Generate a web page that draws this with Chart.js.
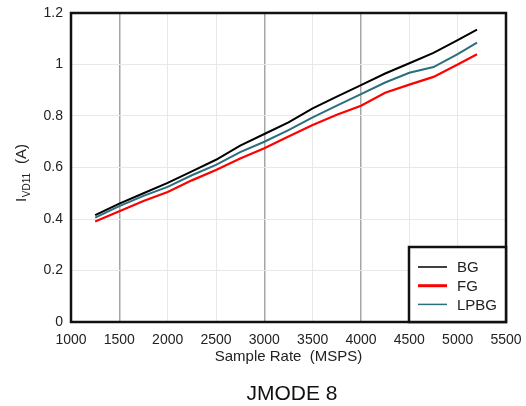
<!DOCTYPE html>
<html>
<head>
<meta charset="utf-8">
<script src="https://cdn.jsdelivr.net/npm/chart.js@4.4.0/dist/chart.umd.min.js"></script>
<style>
  html, body { margin: 0; padding: 0; background: #fff; }
  #wrap { width: 526px; height: 406px; }
</style>
</head>
<body>
<div id="wrap"><canvas id="c" width="526" height="406"></canvas></div>
<script>
// Data
const sampleRates = [1250, 1500, 1750, 2000, 2250, 2500, 2750, 3000, 3250, 3500, 3750, 4000, 4250, 4500, 4750, 5000, 5200];
const bgValues   = [0.415, 0.46, 0.50, 0.54, 0.585, 0.63, 0.685, 0.73, 0.775, 0.83, 0.875, 0.92, 0.965, 1.005, 1.045, 1.095, 1.135];
const fgValues   = [0.39, 0.43, 0.47, 0.505, 0.55, 0.59, 0.635, 0.675, 0.72, 0.765, 0.805, 0.84, 0.89, 0.922, 0.952, 1.0, 1.04];
const lpbgValues = [0.405, 0.45, 0.49, 0.525, 0.57, 0.61, 0.66, 0.70, 0.745, 0.795, 0.84, 0.885, 0.93, 0.968, 0.99, 1.04, 1.085];
const seriesNames = ['BG', 'FG', 'LPBG'];
const xTickValues = [1000, 1500, 2000, 2500, 3000, 3500, 4000, 4500, 5000, 5500];
const yTickValues = [0, 0.2, 0.4, 0.6, 0.8, 1, 1.2];
const darkGridX = [1500, 3000, 4000];
const chartTitle = 'JMODE 8';
const xAxisTitle = 'Sample Rate  (MSPS)';

const FONT = '"Liberation Sans", Arial, sans-serif';
const TEXT = '#222';

function pts(vals) { return sampleRates.map((x, i) => ({ x: x, y: vals[i] })); }

const frameAndLegend = {
  id: 'frameAndLegend',
  afterDatasetsDraw(chart) {
    const { ctx, chartArea: a } = chart;
    ctx.save();
    ctx.strokeStyle = '#111';
    ctx.lineWidth = 2.5;
    ctx.strokeRect(a.left, a.top, a.right - a.left, a.bottom - a.top);
    // legend box
    const bx = a.right - 97, by = a.bottom - 75;
    ctx.fillStyle = '#fff';
    ctx.fillRect(bx, by, a.right - bx, a.bottom - by);
    ctx.lineWidth = 2.5;
    ctx.strokeRect(bx, by, a.right - bx, a.bottom - by);
    ctx.font = '15px ' + FONT;
    ctx.textBaseline = 'middle';
    ctx.textAlign = 'left';
    chart.data.datasets.forEach((ds, i) => {
      const yy = by + 20 + i * 18.7;
      ctx.strokeStyle = ds.borderColor;
      ctx.lineWidth = ds.legendWidth;
      ctx.beginPath();
      ctx.moveTo(bx + 9, yy);
      ctx.lineTo(bx + 38, yy);
      ctx.stroke();
      ctx.fillStyle = TEXT;
      ctx.fillText(ds.label, bx + 48, yy + 1);
    });
    ctx.restore();
  },
  afterDraw(chart) {
    const { ctx, chartArea: a } = chart;
    ctx.save();
    // y axis title with subscript
    ctx.translate(22, (a.top + a.bottom) / 2);
    ctx.rotate(-Math.PI / 2);
    ctx.fillStyle = TEXT;
    ctx.textBaseline = 'middle';
    ctx.textAlign = 'left';
    const big = '15px ' + FONT, small = '10px ' + FONT;
    ctx.font = big; const w1 = ctx.measureText('I').width;
    ctx.font = small; const w2 = ctx.measureText('VD11').width;
    ctx.font = big; const w3 = ctx.measureText('  (A)').width;
    let x0 = -(w1 + w2 + w3) / 2 - 6;
    ctx.font = big; ctx.fillText('I', x0, 0);
    ctx.font = small; ctx.fillText('VD11', x0 + w1 + 0.5, 5);
    ctx.font = big; ctx.fillText('  (A)', x0 + w1 + w2 + 1, 0);
    ctx.restore();
    // bottom title
    ctx.save();
    ctx.fillStyle = '#111';
    ctx.font = '21px ' + FONT;
    ctx.textAlign = 'center';
    ctx.textBaseline = 'middle';
    ctx.fillText(chartTitle, 292, 394);
    ctx.restore();
  }
};

new Chart(document.getElementById('c'), {
  type: 'line',
  data: {
    datasets: [
      { label: seriesNames[0], data: pts(bgValues), borderColor: '#000000', borderWidth: 2, legendWidth: 1.5 },
      { label: seriesNames[1], data: pts(fgValues), borderColor: '#ff0000', borderWidth: 2.2, legendWidth: 3 },
      { label: seriesNames[2], data: pts(lpbgValues), borderColor: '#2b6e7e', borderWidth: 2, legendWidth: 1.5 }
    ]
  },
  options: {
    responsive: false,
    animation: false,
    devicePixelRatio: 1,
    elements: { point: { radius: 0 }, line: { tension: 0 } },
    layout: { padding: { left: 0, right: 20, top: 13, bottom: 40 } },
    plugins: { legend: { display: false }, tooltip: { enabled: false }, title: { display: false } },
    scales: {
      x: {
        type: 'linear',
        min: 1000, max: 5500,
        afterBuildTicks: (s) => { s.ticks = xTickValues.map(v => ({ value: v })); },
        afterFit: (s) => { s.height = 44; s.paddingLeft = 0; s.paddingRight = 0; },
        ticks: { padding: 10, color: TEXT, font: { family: FONT, size: 14 }, callback: (v) => String(v), maxRotation: 0, autoSkip: false },
        grid: {
          drawTicks: false,
          color: (c) => darkGridX.includes(c.tick && c.tick.value) ? '#a6a6a6' : '#e8e8e8',
          lineWidth: (c) => darkGridX.includes(c.tick && c.tick.value) ? 1.5 : 1
        },
        border: { display: false },
        title: { display: true, text: xAxisTitle, color: TEXT, font: { family: FONT, size: 15 }, padding: { top: 0, bottom: 0 } }
      },
      y: {
        min: 0, max: 1.2,
        afterBuildTicks: (s) => { s.ticks = yTickValues.map(v => ({ value: v })); },
        afterFit: (s) => { s.width = 71; s.paddingTop = 0; s.paddingBottom = 0; },
        ticks: { padding: 8, color: TEXT, font: { family: FONT, size: 14 }, callback: (v) => String(v) },
        grid: { drawTicks: false, color: '#e8e8e8', lineWidth: 1 },
        border: { display: false }
      }
    }
  },
  plugins: [frameAndLegend]
});
</script>
</body>
</html>
